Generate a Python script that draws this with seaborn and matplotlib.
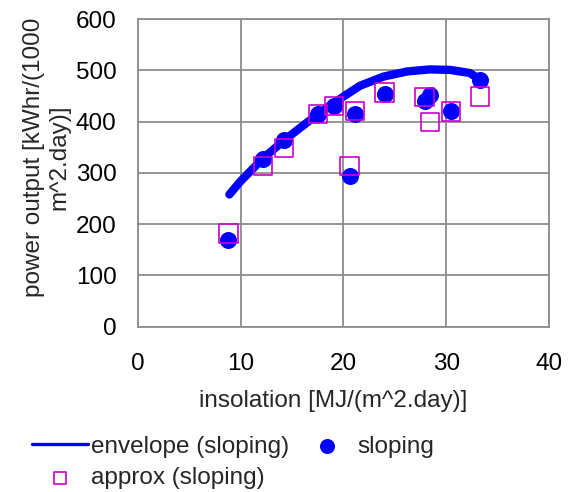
import matplotlib
matplotlib.use("Agg")
import matplotlib.pyplot as plt
import numpy as np
import pandas as pd
import seaborn as sns

# ---------------------------------------------------------------------------
# Data
# ---------------------------------------------------------------------------
insolation = [8.8, 12.2, 14.2, 17.5, 19.1, 20.6, 21.1, 24.0, 27.9, 28.4, 30.5, 33.3]
sloping    = [170, 327, 364, 415, 430, 294, 415, 455, 440, 452, 420, 482]
approx     = [182, 313, 349, 415, 430, 313, 421, 457, 448, 400, 420, 449]

# envelope curve, traced along its length
env_x = [8.9, 10.0, 12.2, 14.5, 17.4, 20.0, 21.6, 23.9, 26.2, 28.4, 30.4, 32.3, 33.3]
env_y = [258, 284, 329, 368, 413, 449, 470, 488, 498, 502, 501, 495, 482]

pts = pd.DataFrame({"insolation": insolation, "sloping": sloping, "approx": approx})
env = pd.DataFrame({"insolation": env_x, "envelope": env_y})

# ---------------------------------------------------------------------------
# Style
# ---------------------------------------------------------------------------
FS = 17.5
sns.set_style("white")
plt.rcParams["font.family"] = ["Liberation Sans", "DejaVu Sans"]
plt.rcParams["font.size"] = FS

fig = plt.figure(figsize=(5.7, 4.92), dpi=100)
ax = fig.add_axes([0.242, 0.336, 0.721, 0.625])

sns.lineplot(data=env, x="insolation", y="envelope", ax=ax, color="#0000ff",
             lw=6, solid_capstyle="round", solid_joinstyle="round",
             label="envelope (sloping)", zorder=3)
sns.scatterplot(data=pts, x="insolation", y="approx", ax=ax, marker="s",
                s=175, facecolor="none", edgecolor="#cc00cc", linewidth=1.2,
                label="approx (sloping)", zorder=4)
sns.scatterplot(data=pts, x="insolation", y="sloping", ax=ax, marker="o",
                s=150, color="#0000ff", edgecolor="#0000ff", linewidth=0,
                label="sloping", zorder=3)

ax.set_xlim(0, 40)
ax.set_ylim(0, 600)
ax.set_xticks(np.arange(0, 41, 10))
ax.set_yticks(np.arange(0, 601, 100))
ax.grid(True, color="#8c8c8c", lw=1.3)
for s in ax.spines.values():
    s.set_color("#8c8c8c")
    s.set_linewidth(1.3)
ax.tick_params(axis="both", direction="out", length=4.5, width=1.3, color="#8c8c8c",
               labelsize=FS, pad=11, labelcolor="black")
ax.tick_params(axis="x", pad=14.5)

ax.set_xlabel("insolation [MJ/(m^2.day)]", fontsize=FS)
ax.xaxis.set_label_coords(0.475, -0.205)
ax.set_ylabel("power output [kWhr/(1000\nm^2.day)]", fontsize=FS)
ax.yaxis.set_label_coords(-0.165, 0.552)

handles, labels = ax.get_legend_handles_labels()
leg = ax.legend(handles, labels, ncol=2, loc="upper left",
                bbox_to_anchor=(-0.257, -0.355),
                frameon=False, fontsize=FS, handlelength=2.3, handletextpad=0.12,
                columnspacing=0.4, labelspacing=0.38, borderaxespad=0,
                borderpad=0)
for h in leg.legend_handles:
    if hasattr(h, "set_sizes"):
        h.set_sizes([117] if h.get_label() == "sloping" else [75])
    else:
        h.set_linewidth(2.4)

fig.savefig("out.png", dpi=100)
